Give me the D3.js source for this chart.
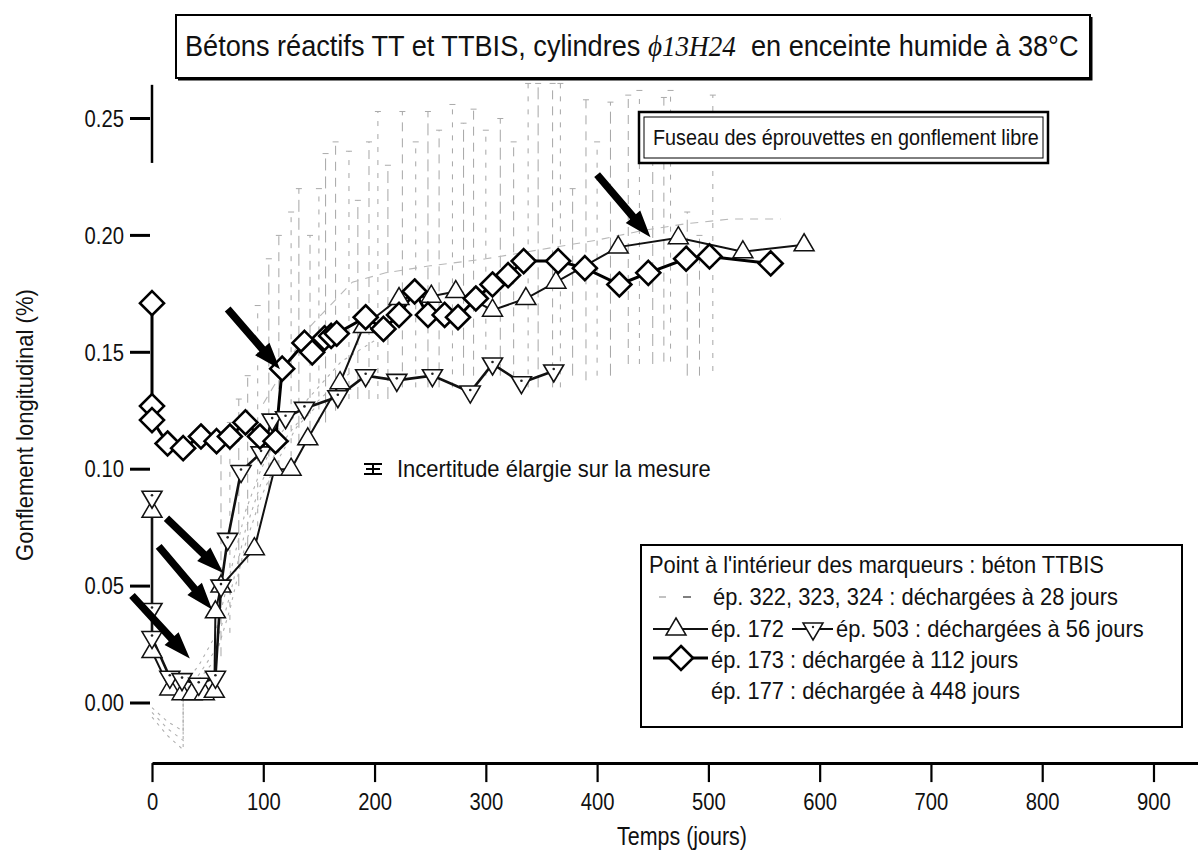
<!DOCTYPE html>
<html><head><meta charset="utf-8">
<script src="https://cdn.jsdelivr.net/npm/d3@7"></script>
<style>
body{margin:0;background:#fff}
svg{display:block;background:#fff}
text{font-family:"Liberation Sans",Arial,Helvetica,sans-serif;fill:#111}
</style>
</head><body>
<svg id="chart" width="1198" height="853"></svg>
<script>
// ---------- data ----------
const xTickValues = [0,100,200,300,400,500,600,700,800,900];
const yTickValues = [0.00,0.05,0.10,0.15,0.20,0.25];

// ép. 172 (triangle up)
const ep172Days  = [0,0,16,27,36,47,56,57,62,92,110,125,140,169,190,222,251,273,306,336,363,419,473,531,586];
const ep172Swell = [0.082,0.022,0.006,0.004,0.004,0.004,0.005,0.039,0.050,0.066,0.100,0.100,0.113,0.137,0.161,0.173,0.174,0.176,0.168,0.173,0.180,0.195,0.199,0.193,0.196];
// ép. 503 (triangle down, TTBIS)
const ep503Days  = [0,0,0,16,27,42,57,62,68,80,98,108,120,137,167,192,220,252,286,306,332,361];
const ep503Swell = [0.088,0.040,0.028,0.011,0.010,0.008,0.011,0.050,0.070,0.099,0.107,0.121,0.122,0.126,0.131,0.140,0.138,0.140,0.133,0.145,0.137,0.142];
// ép. 173 (diamond)
const ep173Days  = [0,0,0,14,28,44,58,70,84,97,111,117,137,144,155,161,166,192,208,222,236,248,263,275,291,306,320,334,365,389,420,446,480,501,556];
const ep173Swell = [0.171,0.127,0.121,0.111,0.109,0.114,0.112,0.114,0.120,0.114,0.112,0.143,0.154,0.150,0.156,0.157,0.158,0.165,0.160,0.166,0.176,0.166,0.166,0.165,0.173,0.179,0.183,0.189,0.189,0.186,0.179,0.184,0.190,0.191,0.188];
// ép. 322, 323, 324 (grey, unloaded at 28 days)
const ep322Days  = [0,14,28,28,42,56,70,84,98,112,126,140,160,180];
const ep322Swell = [-0.004,-0.011,-0.016,0.004,0.012,0.022,0.046,0.074,0.094,0.108,0.117,0.125,0.134,0.142];
const ep323Days  = [0,14,28,28,42,56,70,84,98,112,130,150];
const ep323Swell = [-0.006,-0.014,-0.020,0.000,0.010,0.018,0.040,0.068,0.088,0.103,0.118,0.128];
const ep324Days  = [0,14,28,28,42,56,70,84,98,112,140,170,200];
const ep324Swell = [-0.002,-0.008,-0.012,0.008,0.016,0.028,0.055,0.082,0.100,0.113,0.130,0.146,0.155];
// ép. 177 (grey, unloaded at 448 days)
const ep177Days  = [100,140,180,210,250,300,350,400,440,480,520,565];
const ep177Swell = [0.128,0.160,0.180,0.184,0.187,0.190,0.194,0.198,0.202,0.205,0.207,0.207];
// fuseau of free-swelling specimens (vertical ranges)
const fuseauDays = [62,70,78,86,95,105,114,125,132,142,150,156,165,177,185,195,203,212,225,237,248,258,270,280,289,300,313,325,338,347,360,367,378,390,400,412,428,438,450,460,466,481,492,504];
const fuseauLow  = [0.020,0.030,0.050,0.060,0.070,0.090,0.100,0.100,0.110,0.110,0.120,0.120,0.125,0.130,0.130,0.130,0.130,0.130,0.135,0.135,0.135,0.135,0.135,0.140,0.140,0.140,0.140,0.138,0.135,0.135,0.135,0.135,0.140,0.138,0.140,0.140,0.145,0.145,0.145,0.146,0.146,0.140,0.140,0.142];
const fuseauHigh = [0.110,0.120,0.130,0.140,0.170,0.190,0.200,0.210,0.220,0.200,0.220,0.235,0.240,0.236,0.215,0.240,0.253,0.230,0.253,0.240,0.253,0.245,0.256,0.248,0.254,0.245,0.250,0.240,0.265,0.265,0.265,0.265,0.220,0.258,0.240,0.257,0.260,0.262,0.240,0.259,0.262,0.210,0.200,0.260];
// arrows (data coordinates: tail -> tip)
const arrowTailDays  = [-18, 6, 13, 68, 400];
const arrowTailSwell = [0.046, 0.067, 0.079, 0.1685, 0.226];
const arrowTipDays   = [34, 54, 64, 115, 448];
const arrowTipSwell  = [0.019, 0.040, 0.0556, 0.1427, 0.1992];

const titleMain = "Bétons réactifs TT et TTBIS, cylindres ";
const titleItal = "ϕ13H24";
const titleEnd  = "en enceinte humide à 38°C";
const fuseauLabel = "Fuseau des éprouvettes en gonflement libre";
const uncertaintyLabel = "Incertitude élargie sur la mesure";
const legendLines = [
  "Point à l'intérieur des marqueurs : béton TTBIS",
  "ép. 322, 323, 324 : déchargées à 28 jours",
  "ép. 172",
  "ép. 503 : déchargées à 56 jours",
  "ép. 173 : déchargée à 112 jours",
  "ép. 177 : déchargée à 448 jours"
];
const xTitle = "Temps (jours)";
const yTitle = "Gonflement longitudinal (%)";

// ---------- scales ----------
const svg = d3.select("#chart");
const x = d3.scaleLinear().domain([0, 940]).range([152, 1198]);
const y = d3.scaleLinear().domain([0, 0.25]).range([703, 118.5]);
const yTop = 0.2644, yBottom = -0.0257;

// helper: place text condensed to a target width
function placeFit(sel, x0, base, target, anchor) {
  const w = sel.node().getBBox().width;
  const s = target / w;
  let tx = x0;
  if (anchor === "middle") tx = x0 - target/2;
  if (anchor === "end") tx = x0 - target;
  sel.attr("text-anchor","start").attr("x",0).attr("y",0)
     .attr("transform", `translate(${tx},${base}) scale(${s},1)`);
}

// ---------- grey fuseau ----------
const gGrey = svg.append("g");
const fuseau = fuseauDays.map((d,i)=>({t:d, lo:fuseauLow[i], hi:fuseauHigh[i], k:i}));
gGrey.selectAll("line.fz").data(fuseau).join("line")
  .attr("x1", d=>x(d.t)).attr("x2", d=>x(d.t))
  .attr("y1", d=>y(d.lo)).attr("y2", d=>y(d.hi))
  .attr("stroke","#a6a6a6").attr("stroke-width",1)
  .attr("stroke-dasharray", d=> d.k % 3 === 0 ? "9,7" : (d.k % 3 === 1 ? "5,8" : "12,6"));
gGrey.selectAll("line.cap").data(fuseau).join("line")
  .attr("x1", d=>x(d.t)-3).attr("x2", d=>x(d.t)+3)
  .attr("y1", d=>y(d.hi)).attr("y2", d=>y(d.hi))
  .attr("stroke","#aaa").attr("stroke-width",1);

const lineGen = d3.line().x(d=>x(d.t)).y(d=>y(d.v));
function pts(days, vals){ return days.map((d,i)=>({t:d, v:vals[i]})); }
[[ep322Days,ep322Swell],[ep323Days,ep323Swell],[ep324Days,ep324Swell]].forEach(([d,v])=>{
  gGrey.append("path").attr("d", lineGen(pts(d,v))).attr("fill","none")
    .attr("stroke","#b0b0b0").attr("stroke-width",1.1).attr("stroke-dasharray","3,5");
});
gGrey.append("path").attr("d", lineGen(pts(ep177Days,ep177Swell))).attr("fill","none")
  .attr("stroke","#b8b8b8").attr("stroke-width",1.1).attr("stroke-dasharray","8,7");

// ---------- axes ----------
const gx = svg.append("g").attr("transform", `translate(0,${y(yBottom)})`)
  .call(d3.axisBottom(x).tickValues(xTickValues).tickSize(19).tickSizeOuter(0).tickPadding(0));
gx.select(".domain").attr("stroke","#000").attr("stroke-width",3);
gx.selectAll(".tick line").attr("stroke","#000").attr("stroke-width",2.2);
gx.selectAll(".tick text").attr("font-size",23).attr("fill","#111").attr("y",0).attr("dy",null)
  .attr("transform","translate(0,47) scale(0.88,1)");

const gy = svg.append("g").attr("transform", `translate(${x(0)},0)`);
gy.append("line").attr("x1",0).attr("x2",0).attr("y1",y(yTop)).attr("y2",y(0.231))
  .attr("stroke","#000").attr("stroke-width",2.5);
const yt = gy.selectAll("g.yt").data(yTickValues).join("g").attr("transform", d=>`translate(0,${y(d)})`);
yt.append("line").attr("x1",-22).attr("x2",-2).attr("stroke","#000").attr("stroke-width",3);
yt.append("text").text(d=>d3.format(".2f")(d)).attr("font-size",23).attr("text-anchor","end")
  .attr("dy","0.36em").attr("transform","translate(-28,0) scale(0.88,1)");

// axis titles
const xt = svg.append("text").text(xTitle).attr("font-size",25);
placeFit(xt, 682, 845, 130, "middle");
const ytl = svg.append("g").attr("transform","translate(33,425) rotate(-90)");
const ytt = ytl.append("text").text(yTitle).attr("font-size",24);
placeFit(ytt, 0, 0, 272, "middle");

// ---------- series ----------
const gS = svg.append("g");
const d172 = pts(ep172Days, ep172Swell), d503 = pts(ep503Days, ep503Swell), d173 = pts(ep173Days, ep173Swell);
gS.append("path").attr("d", lineGen(d172)).attr("fill","none").attr("stroke","#111").attr("stroke-width",2);
gS.append("path").attr("d", lineGen(d503)).attr("fill","none").attr("stroke","#111").attr("stroke-width",2.6);
gS.append("path").attr("d", lineGen(d173)).attr("fill","none").attr("stroke","#000").attr("stroke-width",3);

const triUp = "M0,-11L10,6L-10,6Z", triDown = "M0,11L10,-6L-10,-6Z", diamond = "M0,-12L12,0L0,12L-12,0Z";
gS.selectAll("path.up").data(d172).join("path").attr("class","up")
  .attr("transform", d=>`translate(${x(d.t)},${y(d.v)})`).attr("d", triUp)
  .attr("fill","#fff").attr("stroke","#111").attr("stroke-width",1.5);
const dn = gS.selectAll("g.dn").data(d503).join("g").attr("class","dn")
  .attr("transform", d=>`translate(${x(d.t)},${y(d.v)})`);
dn.append("path").attr("d", triDown).attr("fill","#fff").attr("stroke","#111").attr("stroke-width",1.6);
dn.append("circle").attr("cy",-2).attr("r",1.3).attr("fill","#222");
gS.selectAll("path.dm").data(d173).join("path").attr("class","dm")
  .attr("transform", d=>`translate(${x(d.t)},${y(d.v)})`).attr("d", diamond)
  .attr("fill","#fff").attr("stroke","#000").attr("stroke-width",2.6);

// ---------- arrows ----------
const arrows = arrowTailDays.map((d,i)=>({x0:x(d), y0:y(arrowTailSwell[i]), x1:x(arrowTipDays[i]), y1:y(arrowTipSwell[i])}));
svg.append("g").selectAll("path").data(arrows).join("path")
  .attr("d", a=>{
    const dx=a.x1-a.x0, dy=a.y1-a.y0, L=Math.hypot(dx,dy), ux=dx/L, uy=dy/L, px=-uy, py=ux;
    const hl=27, hw=9.5, sw=3.8;
    const nx=a.x1-ux*hl, ny=a.y1-uy*hl;
    const P=[[a.x0+px*sw,a.y0+py*sw],[nx+px*sw,ny+py*sw],[nx+px*hw,ny+py*hw],[a.x1,a.y1],
             [nx-px*hw,ny-py*hw],[nx-px*sw,ny-py*sw],[a.x0-px*sw,a.y0-py*sw]];
    return "M"+P.map(p=>p.join(",")).join("L")+"Z";
  }).attr("fill","#000");

// ---------- title box ----------
svg.append("rect").attr("x",176).attr("y",15).attr("width",914).attr("height",63)
  .attr("fill","#fff").attr("stroke","#000").attr("stroke-width",2);
svg.append("path").attr("d","M1091,17L1091,79L178,79").attr("fill","none").attr("stroke","#000").attr("stroke-width",3);
const title = svg.append("text").attr("font-size",30).style("white-space","pre");
title.append("tspan").text(titleMain);
title.append("tspan").text(titleItal).attr("font-family","'Liberation Serif','Times New Roman',serif").attr("font-style","italic");
title.append("tspan").text("  " + titleEnd);
placeFit(title, 185, 56, 894, "start");

// ---------- fuseau label box ----------
svg.append("rect").attr("x",639).attr("y",112).attr("width",409).attr("height",51)
  .attr("fill","#fff").attr("stroke","#000").attr("stroke-width",2.5);
svg.append("rect").attr("x",644).attr("y",117).attr("width",399).attr("height",41)
  .attr("fill","none").attr("stroke","#000").attr("stroke-width",1);
const fz = svg.append("text").text(fuseauLabel).attr("font-size",22);
placeFit(fz, 653, 145, 386, "start");

// ---------- uncertainty note ----------
const gu = svg.append("g").attr("stroke","#000");
gu.append("line").attr("x1",364).attr("x2",382).attr("y1",464).attr("y2",464).attr("stroke-width",2);
gu.append("line").attr("x1",364).attr("x2",382).attr("y1",474).attr("y2",474).attr("stroke-width",2);
gu.append("line").attr("x1",366).attr("x2",380).attr("y1",469).attr("y2",469).attr("stroke-width",2);
gu.append("line").attr("x1",373).attr("x2",373).attr("y1",464).attr("y2",474).attr("stroke-width",2);
const ut = svg.append("text").text(uncertaintyLabel).attr("font-size",23);
placeFit(ut, 397, 477, 314, "start");

// ---------- legend ----------
const lg = svg.append("g");
lg.append("rect").attr("x",641).attr("y",545).attr("width",541).attr("height",182)
  .attr("fill","#fff").attr("stroke","#000").attr("stroke-width",2);
const lt0 = lg.append("text").text(legendLines[0]).attr("font-size",23);
const refW = lt0.node().getBBox().width;
placeFit(lt0, 649, 573, 455, "start");
function legendText(str, x0, base){
  const t = lg.append("text").text(str).attr("font-size",23);
  const w = t.node().getBBox().width;
  placeFit(t, x0, base, w * 455 / refW, "start");
}
legendText(legendLines[1], 713, 605);
legendText(legendLines[2], 711, 637);
legendText(legendLines[3], 836, 637);
legendText(legendLines[4], 711, 668);
legendText(legendLines[5], 711, 699);
// legend symbols
lg.append("line").attr("x1",659).attr("x2",666).attr("y1",597).attr("y2",597).attr("stroke","#999").attr("stroke-width",1.2);
lg.append("line").attr("x1",683).attr("x2",691).attr("y1",597).attr("y2",597).attr("stroke","#555").attr("stroke-width",1.5);
lg.append("line").attr("x1",653).attr("x2",708).attr("y1",629).attr("y2",629).attr("stroke","#111").attr("stroke-width",2);
lg.append("path").attr("d",triUp).attr("transform","translate(676,629)").attr("fill","#fff").attr("stroke","#111").attr("stroke-width",1.5);
lg.append("line").attr("x1",792).attr("x2",833).attr("y1",629).attr("y2",629).attr("stroke","#111").attr("stroke-width",2);
lg.append("path").attr("d",triDown).attr("transform","translate(813,629)").attr("fill","#fff").attr("stroke","#111").attr("stroke-width",1.5);
lg.append("circle").attr("cx",813).attr("cy",627).attr("r",1.2).attr("fill","#222");
lg.append("line").attr("x1",653).attr("x2",708).attr("y1",658).attr("y2",658).attr("stroke","#000").attr("stroke-width",3);
lg.append("path").attr("d",diamond).attr("transform","translate(681,658)").attr("fill","#fff").attr("stroke","#000").attr("stroke-width",2.6);
</script>
</body></html>
